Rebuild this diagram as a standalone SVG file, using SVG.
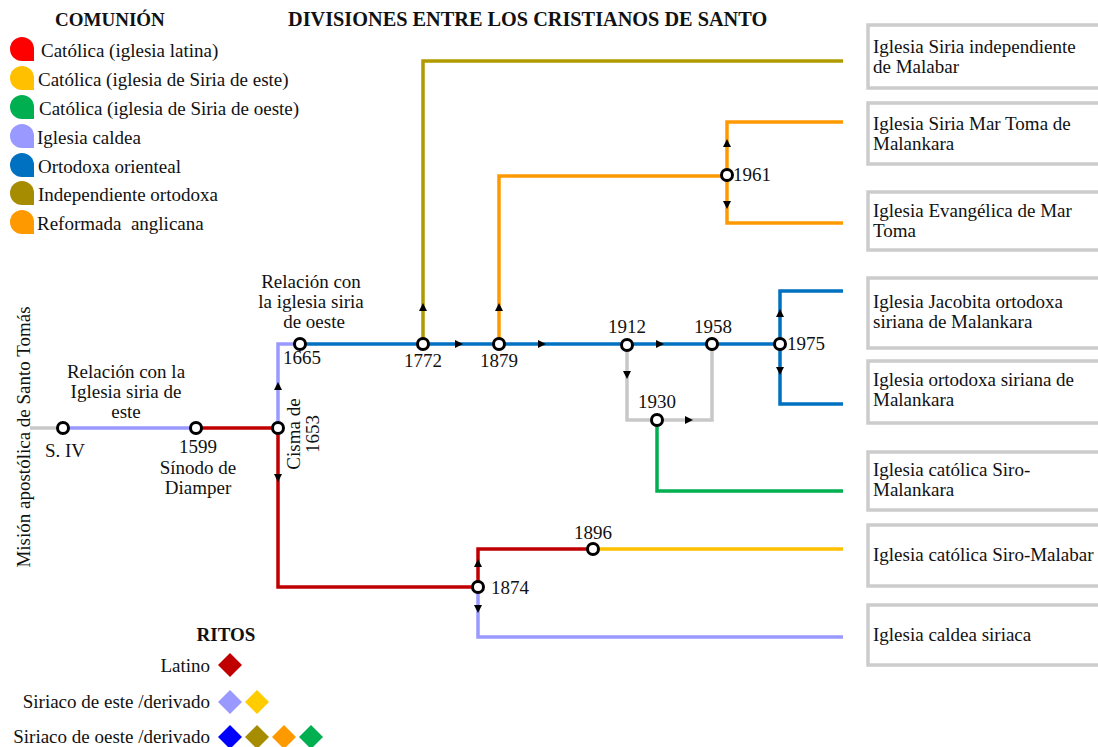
<svg xmlns="http://www.w3.org/2000/svg" width="1098" height="747" viewBox="0 0 1098 747">
<style>
text{fill:#111;font-size:19px}
.b{font-weight:bold}
.m{text-anchor:middle}
.e{text-anchor:end}
.ln{fill:none;stroke-width:3.5;stroke-linejoin:miter;stroke-linecap:butt}
.nd{fill:#fff;stroke:#000;stroke-width:3}
.bx{fill:#fff;stroke:#cccccc;stroke-width:3.5}
</style>
<defs>
<path id="ah" d="M-4,-4 L4,0 L-4,4 Z" fill="#000"/>
<path id="drop" d="M12,12 H0 A12,12 0 1 1 12,0 Z"/>
<path id="dia" d="M0,-12 L12,0 L0,12 L-12,0 Z"/>
</defs>
<rect width="1098" height="747" fill="#fff"/>

<g id="titles">
<text font-family="Liberation Serif" class="b" x="288" y="26" style="font-size:20.3px">DIVISIONES ENTRE LOS CRISTIANOS DE SANTO</text>
<text font-family="Liberation Serif" class="b" x="55" y="26">COMUNIÓN</text>
</g>

<g id="legend-comunion">
<use href="#drop" x="22" y="49" fill="#ff0000"/><text font-family="Liberation Serif" x="41" y="57">Católica (iglesia latina)</text>
<use href="#drop" x="22" y="78" fill="#ffc000"/><text font-family="Liberation Serif" x="38" y="86">Católica (iglesia de Siria de este)</text>
<use href="#drop" x="22" y="107" fill="#00b050"/><text font-family="Liberation Serif" x="39" y="115">Católica (iglesia de Siria de oeste)</text>
<use href="#drop" x="22" y="136" fill="#9999ff"/><text font-family="Liberation Serif" x="37" y="144">Iglesia caldea</text>
<use href="#drop" x="22" y="165" fill="#0070c0"/><text font-family="Liberation Serif" x="38" y="173">Ortodoxa orienteal</text>
<use href="#drop" x="22" y="193" fill="#a68c00"/><text font-family="Liberation Serif" x="38" y="201">Independiente ortodoxa</text>
<use href="#drop" x="22" y="222" fill="#ff9900"/><text font-family="Liberation Serif" x="37" y="230" xml:space="preserve">Reformada  anglicana</text>
</g>

<g id="legend-ritos">
<text font-family="Liberation Serif" class="b m" x="226" y="641">RITOS</text>
<text font-family="Liberation Serif" class="e" x="210" y="672">Latino</text>
<use href="#dia" x="230" y="665" fill="#c00000"/>
<text font-family="Liberation Serif" class="e" x="210" y="708">Siriaco de este /derivado</text>
<use href="#dia" x="230" y="702" fill="#9999ff"/>
<use href="#dia" x="257" y="702" fill="#ffcc00"/>
<text font-family="Liberation Serif" class="e" x="210" y="743">Siriaco de oeste /derivado</text>
<use href="#dia" x="230" y="737" fill="#0000ff"/>
<use href="#dia" x="257" y="737" fill="#a68c00"/>
<use href="#dia" x="284" y="737" fill="#ff9900"/>
<use href="#dia" x="311" y="737" fill="#00b050"/>
</g>

<g id="connectors">
<path class="ln" stroke="#c8c8c8" d="M30,428 H63"/>
<path class="ln" stroke="#9999ff" d="M63,428 H196"/>
<path class="ln" stroke="#c00000" d="M196,428 H278"/>
<path class="ln" stroke="#9999ff" d="M278,428 V344 H300"/>
<path class="ln" stroke="#c00000" d="M278,428 V587 H478"/>
<path class="ln" stroke="#0070c0" d="M300,344 H780"/>
<path class="ln" stroke="#b09a00" d="M423,344 V61 H843"/>
<path class="ln" stroke="#ff9900" d="M499,344 V176 H727"/>
<path class="ln" stroke="#ff9900" d="M843,122 H727 V223 H843"/>
<path class="ln" stroke="#c8c8c8" d="M627,344 V420 H712 V344"/>
<path class="ln" stroke="#00b050" d="M657,420 V491 H843"/>
<path class="ln" stroke="#0070c0" d="M843,291 H780 V404 H843"/>
<path class="ln" stroke="#c00000" d="M478,587 V549 H593"/>
<path class="ln" stroke="#ffc000" d="M593,549 H843"/>
<path class="ln" stroke="#9999ff" d="M478,587 V637 H843"/>
<use href="#ah" transform="translate(278,386) rotate(-90)"/>
<use href="#ah" transform="translate(278,478) rotate(90)"/>
<use href="#ah" transform="translate(459,344)"/>
<use href="#ah" transform="translate(542,344)"/>
<use href="#ah" transform="translate(660,344)"/>
<use href="#ah" transform="translate(423,307) rotate(-90)"/>
<use href="#ah" transform="translate(499,307) rotate(-90)"/>
<use href="#ah" transform="translate(627,375) rotate(90)"/>
<use href="#ah" transform="translate(689,420)"/>
<use href="#ah" transform="translate(727,143) rotate(-90)"/>
<use href="#ah" transform="translate(727,205) rotate(90)"/>
<use href="#ah" transform="translate(780,313) rotate(-90)"/>
<use href="#ah" transform="translate(780,371) rotate(90)"/>
<use href="#ah" transform="translate(478,563) rotate(-90)"/>
<use href="#ah" transform="translate(478,609) rotate(90)"/>
</g>

<g id="label-mision"><text font-family="Liberation Serif" class="m" transform="translate(30,437) rotate(-90)">Misión apostólica de Santo Tomás</text></g>

<g id="node-SIV"><circle class="nd" cx="63" cy="428" r="5.5"/><text font-family="Liberation Serif" class="m" x="65" y="457">S. IV</text></g>
<g id="label-relacion-este"><text font-family="Liberation Serif" class="m" x="126" y="378">Relación con la</text><text font-family="Liberation Serif" class="m" x="126" y="398">Iglesia siria de</text><text font-family="Liberation Serif" class="m" x="126" y="418">este</text></g>
<g id="node-1599"><circle class="nd" cx="196" cy="428" r="5.5"/><text font-family="Liberation Serif" class="m" x="198" y="453">1599</text><text font-family="Liberation Serif" class="m" x="198" y="474">Sínodo de</text><text font-family="Liberation Serif" class="m" x="198" y="494">Diamper</text></g>
<g id="node-1653"><circle class="nd" cx="278" cy="428" r="5.5"/><text font-family="Liberation Serif" class="m" transform="translate(300,434) rotate(-90)">Cisma de</text><text font-family="Liberation Serif" class="m" transform="translate(319,434) rotate(-90)">1653</text></g>
<g id="node-1665"><circle class="nd" cx="300" cy="344" r="5.5"/><text font-family="Liberation Serif" class="m" x="302" y="364">1665</text><text font-family="Liberation Serif" class="m" x="311" y="288">Relación con</text><text font-family="Liberation Serif" class="m" x="311" y="308">la iglesia siria</text><text font-family="Liberation Serif" class="m" x="314" y="328">de oeste</text></g>
<g id="node-1772"><circle class="nd" cx="423" cy="344" r="5.5"/><text font-family="Liberation Serif" class="m" x="423" y="367">1772</text></g>
<g id="node-1879"><circle class="nd" cx="499" cy="344" r="5.5"/><text font-family="Liberation Serif" class="m" x="499" y="367">1879</text></g>
<g id="node-1912"><circle class="nd" cx="627" cy="345" r="5.5"/><text font-family="Liberation Serif" class="m" x="627" y="333">1912</text></g>
<g id="node-1958"><circle class="nd" cx="712" cy="344" r="5.5"/><text font-family="Liberation Serif" class="m" x="713" y="333">1958</text></g>
<g id="node-1975"><circle class="nd" cx="780" cy="344" r="5.5"/><text font-family="Liberation Serif" x="787" y="350">1975</text></g>
<g id="node-1930"><circle class="nd" cx="657" cy="420" r="5.5"/><text font-family="Liberation Serif" class="m" x="657" y="408">1930</text></g>
<g id="node-1961"><circle class="nd" cx="727" cy="175" r="5.5"/><text font-family="Liberation Serif" x="733" y="181">1961</text></g>
<g id="node-1874"><circle class="nd" cx="478" cy="587" r="5.5"/><text font-family="Liberation Serif" x="491" y="594">1874</text></g>
<g id="node-1896"><circle class="nd" cx="593" cy="549" r="5.5"/><text font-family="Liberation Serif" class="m" x="593" y="539">1896</text></g>

<g id="box-malabar-indep"><rect class="bx" x="868" y="25" width="245" height="63"/><text font-family="Liberation Serif" x="873" y="53">Iglesia Siria independiente</text><text font-family="Liberation Serif" x="873" y="73">de Malabar</text></g>
<g id="box-mar-toma"><rect class="bx" x="868" y="103" width="245" height="61"/><text font-family="Liberation Serif" x="873" y="130">Iglesia Siria Mar Toma de</text><text font-family="Liberation Serif" x="873" y="150">Malankara</text></g>
<g id="box-evangelica"><rect class="bx" x="868" y="192" width="245" height="58"/><text font-family="Liberation Serif" x="873" y="217">Iglesia Evangélica de Mar</text><text font-family="Liberation Serif" x="873" y="237">Toma</text></g>
<g id="box-jacobita"><rect class="bx" x="868" y="278" width="245" height="70"/><text font-family="Liberation Serif" x="873" y="308">Iglesia Jacobita ortodoxa</text><text font-family="Liberation Serif" x="873" y="328">siriana de Malankara</text></g>
<g id="box-ortodoxa"><rect class="bx" x="868" y="361" width="245" height="62"/><text font-family="Liberation Serif" x="873" y="386">Iglesia ortodoxa siriana de</text><text font-family="Liberation Serif" x="873" y="406">Malankara</text></g>
<g id="box-siro-malankara"><rect class="bx" x="868" y="452" width="245" height="58"/><text font-family="Liberation Serif" x="873" y="476">Iglesia católica Siro-</text><text font-family="Liberation Serif" x="873" y="496">Malankara</text></g>
<g id="box-siro-malabar"><rect class="bx" x="868" y="525" width="245" height="61"/><text font-family="Liberation Serif" x="873" y="561">Iglesia católica Siro-Malabar</text></g>
<g id="box-caldea"><rect class="bx" x="868" y="605" width="245" height="60"/><text font-family="Liberation Serif" x="873" y="641">Iglesia caldea siriaca</text></g>
</svg>
